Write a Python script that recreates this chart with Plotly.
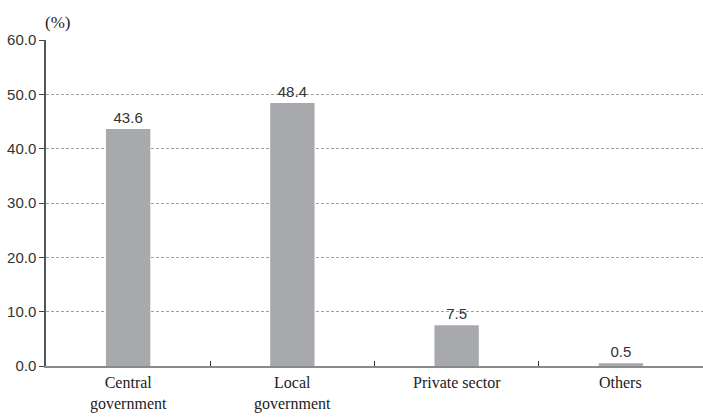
import plotly.graph_objects as go

categories = ["Central government", "Local government", "Private sector", "Others"]
category_labels = ["Central<br>government", "Local<br>government", "Private sector", "Others"]
values = [43.6, 48.4, 7.5, 0.5]
value_labels = ["43.6", "48.4", "7.5", "0.5"]
y_ticks = [0, 10, 20, 30, 40, 50, 60]
y_tick_labels = ["0.0", "10.0", "20.0", "30.0", "40.0", "50.0", "60.0"]

SERIF = "Liberation Serif, Times New Roman, DejaVu Serif, serif"

fig = go.Figure()
fig.add_trace(go.Bar(
    x=categories, y=values, text=value_labels, textposition="outside",
    textfont=dict(family="Liberation Sans", size=15, color="#333333"),
    marker=dict(color="#a8a9ac", line=dict(width=0)),
    width=0.27, cliponaxis=False,
))

annotations = []
for cat, lab in zip(categories, category_labels):
    annotations.append(dict(
        x=cat, xref="x", y=0, yref="paper", yanchor="top",
        yshift=-6, text=lab, showarrow=False,
        font=dict(family=SERIF, size=16, color="#222222"),
    ))
annotations.append(dict(
    x=0, xref="paper", y=1, yref="paper", xanchor="left", yanchor="bottom",
    xshift=-3, yshift=6, text="(%)", showarrow=False,
    font=dict(family=SERIF, size=17, color="#222222"),
))

fig.update_layout(
    width=703, height=419,
    margin=dict(l=46, r=0, t=40, b=53),
    plot_bgcolor="white", paper_bgcolor="white",
    showlegend=False,
    annotations=annotations,
    xaxis=dict(
        type="category", showticklabels=False, tickson="boundaries",
        ticks="inside", ticklen=5, tickcolor="#333333", tickwidth=1,
        showline=True, linecolor="#8a8a8a", linewidth=2, showgrid=False,
        zeroline=False,
    ),
    yaxis=dict(
        range=[0, 60], tickvals=y_ticks, ticktext=y_tick_labels,
        tickfont=dict(family="Liberation Sans", size=15, color="#333333"),
        ticks="outside", ticklen=5, tickcolor="#444444",
        showline=True, linecolor="#555555", linewidth=1.5,
        showgrid=True, gridcolor="#a0a0a0", gridwidth=1, griddash="3px,2px",
        zeroline=False,
    ),
)

fig.write_html("out.html")
